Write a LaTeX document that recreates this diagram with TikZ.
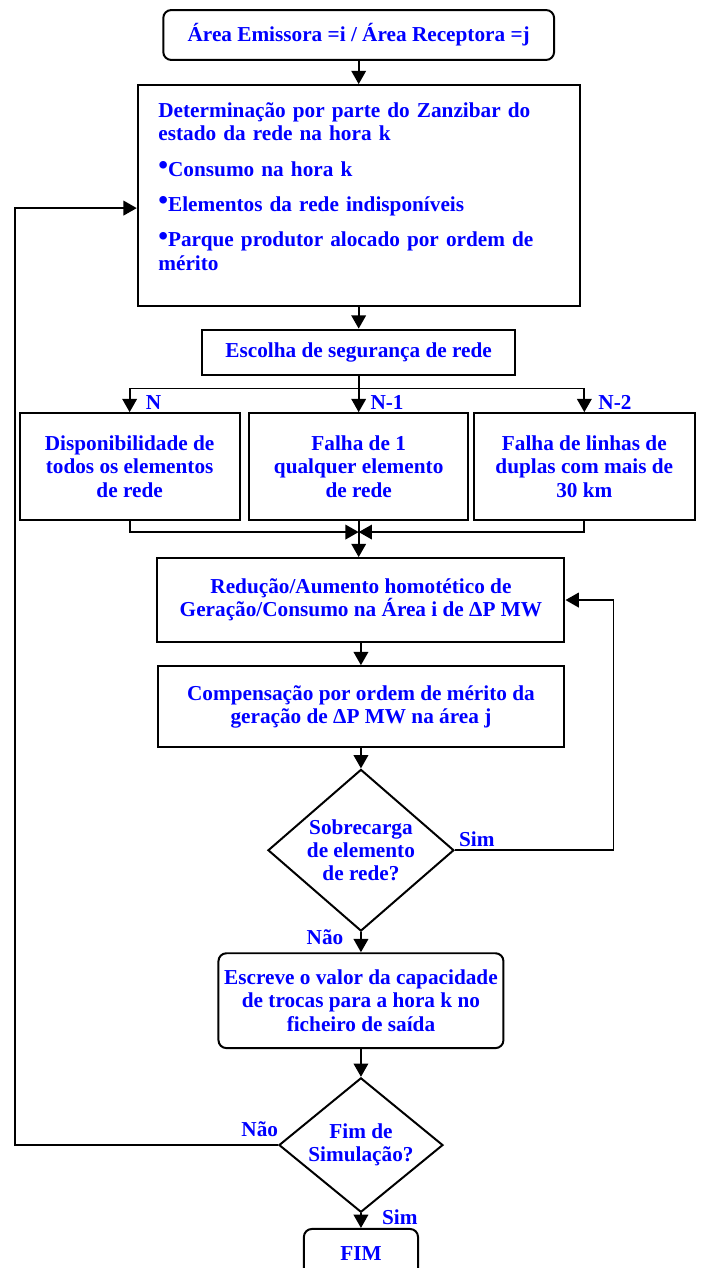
\documentclass[tikz,border=0pt]{standalone}
\usepackage{fontspec}
\setmainfont{Liberation Serif}
\usepackage{tikz}
\usetikzlibrary{shapes.geometric,arrows.meta,positioning}
\tikzstyle{startstop} = [rectangle, rounded corners=6pt, align=center, draw=black, line width=1.5pt, text=blue, font=\bfseries\fontsize{16pt}{17.6pt}\selectfont]
\tikzstyle{process} = [rectangle, align=center, draw=black, line width=1.5pt, text=blue, font=\bfseries\fontsize{16pt}{17.6pt}\selectfont]
\tikzstyle{decision} = [diamond, align=center, inner sep=1.2pt, draw=black, line width=1.5pt, text=blue, font=\bfseries\fontsize{16pt}{17.6pt}\selectfont]
\tikzstyle{answer} = [text=blue, font=\bfseries\fontsize{16pt}{17.6pt}\selectfont]
\tikzstyle{arrow} = [line width=1.3pt,-{Triangle[length=10pt,width=11pt]}]
\newcommand{\itemdot}{\raisebox{1.5pt}{\fontsize{21pt}{21pt}\selectfont\textbullet}}

\begin{document}
\begin{tikzpicture}[node distance=1cm]

\path [use as bounding box, clip] (0,0) rectangle (18.547,-33.549);

\node (start) [startstop, minimum width=10.34cm, minimum height=1.32cm] at (9.49,-0.926) {Área Emissora =i / Área Receptora =j};

\node (state) [process, below of=start, yshift=-3.25cm, minimum width=11.69cm, minimum height=5.85cm, align=left, text width=10.6cm] {Determinação por parte do Zanzibar do\\estado da rede na hora k\\[9pt]
\itemdot Consumo na hora k\\[9pt]
\itemdot Elementos da rede indisponíveis\\[9pt]
\itemdot Parque produtor alocado por ordem de\\mérito\\[-4pt]\mbox{}};

\node (choice) [process, below of=state, yshift=-3.14cm, minimum width=8.28cm, minimum height=1.19cm] {Escolha de segurança de rede};

\node (fail1) [process, below of=choice, yshift=-2.03cm, minimum width=5.8cm, minimum height=2.83cm] {Falha de 1\\qualquer elemento\\de rede};
\node (avail) [process, below of=choice, xshift=-6.06cm, yshift=-2.03cm, minimum width=5.82cm, minimum height=2.83cm] {Disponibilidade de\\todos os elementos\\de rede};
\node (fail2) [process, below of=choice, xshift=5.97cm, yshift=-2.03cm, minimum width=5.85cm, minimum height=2.83cm] {Falha de linhas de\\duplas com mais de\\30 km};

\node (reduce) [process, below of=fail1, xshift=0.06cm, yshift=-2.53cm, minimum width=10.77cm, minimum height=2.22cm] {Redução/Aumento homotético de\\Geração/Consumo na Área i de ΔP MW};
\node (comp) [process, below of=reduce, yshift=-1.82cm, minimum width=10.74cm, minimum height=2.14cm] {Compensação por ordem de mérito da\\geração de ΔP MW na área j};

\node (overload) [decision, below of=comp, yshift=-2.8cm, shape aspect=1.15] {Sobrecarga\\de elemento\\de rede?};

\node (write) [startstop, below of=overload, yshift=-2.98cm, minimum width=7.54cm, minimum height=2.51cm] {Escreve o valor da capacidade\\de trocas para a hora k no\\ficheiro de saída};

\node (endsim) [decision, below of=write, yshift=-2.82cm, shape aspect=1.22] {Fim de\\Simulação?};

\node (fim) [startstop, below of=endsim, yshift=-1.88cm, minimum width=3.02cm, minimum height=1.32cm] {FIM};

\node [answer, xshift=0.63cm, yshift=0.26cm] at (avail.north) {N};
\node [answer, xshift=0.75cm, yshift=0.26cm] at (fail1.north) {N-1};
\node [answer, xshift=0.81cm, yshift=0.26cm] at (fail2.north) {N-2};
\node [answer, xshift=0.58cm, yshift=0.29cm] at (overload.east) {Sim};
\node [answer, xshift=-0.95cm, yshift=-0.13cm] at (overload.south) {Não};
\node [answer, xshift=-0.48cm, yshift=0.42cm] at (endsim.west) {Não};
\node [answer, xshift=1.03cm, yshift=-0.11cm] at (endsim.south) {Sim};

\coordinate (split) at ([yshift=-0.34cm]choice.south);
\coordinate (merge) at ([yshift=-0.29cm]fail1.south);
\coordinate (simturn) at ([xshift=1.27cm]reduce.east);
\coordinate (naoturn) at ([xshift=-3.23cm,yshift=-0.33cm]state.west);

\draw [arrow] (start) -- (state);
\draw [arrow] (state) -- (choice);
\draw [arrow] (choice) -- (fail1);
\draw [arrow] (split) -| (avail);
\draw [arrow] (split) -| (fail2);
\draw [arrow] (avail.south) |- (merge);
\draw [arrow] (fail2.south) |- (merge);
\draw [arrow] (fail1.south) -- (fail1.south |- reduce.north);
\draw [arrow] (reduce) -- (comp);
\draw [arrow] (comp) -- (overload);
\draw [arrow] (overload) -- (write);
\draw [arrow] (overload.east) -| (simturn) -- (reduce.east);
\draw [arrow] (write) -- (endsim);
\draw [arrow] (endsim) -- (fim);
\draw [arrow] (endsim.west) -| (naoturn) -- ([yshift=-0.33cm]state.west);

\end{tikzpicture}
\end{document}
